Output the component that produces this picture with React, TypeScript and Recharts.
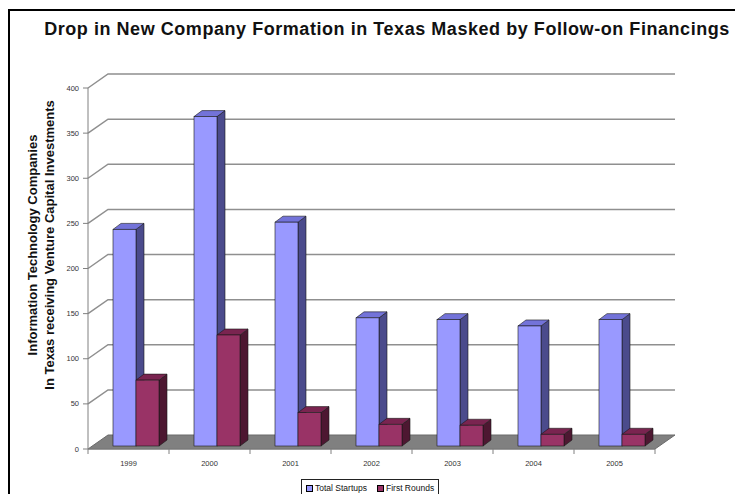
import { BarChart, Bar, XAxis, YAxis, CartesianGrid, Legend } from "recharts";

const years = ["1999", "2000", "2001", "2002", "2003", "2004", "2005"];
const totalStartups = [240, 365, 248, 142, 140, 133, 140];
const firstRounds = [73, 123, 37, 24, 23, 13, 13];
const yTicks = [0, 50, 100, 150, 200, 250, 300, 350, 400];
const seriesNames = ["Total Startups", "First Rounds"];
const titleText = "Drop in New Company Formation in Texas Masked by Follow-on Financings";
const yTitleLines = ["Information Technology Companies", "In Texas receiving Venture Capital Investments"];

const data = years.map((year, i) => ({ year, total: totalStartups[i], first: firstRounds[i] }));

const FONT = "'Liberation Sans', Arial, sans-serif";
const W = 743;
const H = 500;
const M = { top: 88, right: 88, bottom: 31, left: 28 };
const PLOT_W = W - M.left - 60 - M.right;

// back wall offset (3d look)
const WALL_DX = 20;
const WALL_DY = 14;
// bar depth
const BAR_DX = 8;
const BAR_DY = 6;

const BLUE = { front: "#9999ff", top: "#7373d9", side: "#4b4b8c" };
const RED = { front: "#993366", top: "#7a2450", side: "#4d1731" };

function Box3D(props: any) {
  const { x, y, width, height, colors } = props;
  if (height == null || height <= 0) return null;
  const bx = x + 7;
  const by = y - 3;
  const w = width;
  const h = height;
  const stroke = "#1a1a1a";
  return (
    <g>
      <polygon
        points={`${bx + w},${by} ${bx + w + BAR_DX},${by - BAR_DY} ${bx + w + BAR_DX},${by + h - BAR_DY} ${bx + w},${by + h}`}
        fill={colors.side}
        stroke={stroke}
        strokeWidth={0.6}
      />
      <polygon
        points={`${bx},${by} ${bx + BAR_DX},${by - BAR_DY} ${bx + w + BAR_DX},${by - BAR_DY} ${bx + w},${by}`}
        fill={colors.top}
        stroke={stroke}
        strokeWidth={0.6}
      />
      <rect x={bx} y={by} width={w} height={h} fill={colors.front} stroke={stroke} strokeWidth={0.6} />
    </g>
  );
}

const gridLine = (props: any) => {
  const { x1, x2, y1, index, y, height } = props;
  const bottom = y != null && height != null ? Math.abs(y1 - (y + height)) < 1 : y1 > 440;
  return (
    <g key={`grid-${index}`}>
      {bottom && (
        <polygon
          points={`${x1},${y1} ${x2},${y1} ${x2 + WALL_DX},${y1 - WALL_DY} ${x1 + WALL_DX},${y1 - WALL_DY}`}
          fill="#808080"
          stroke="#6a6a6a"
          strokeWidth={1}
        />
      )}
      {!bottom && (
        <polyline
          points={`${x1},${y1} ${x1 + WALL_DX},${y1 - WALL_DY} ${x2 + WALL_DX},${y1 - WALL_DY}`}
          fill="none"
          stroke="#8f8f8f"
          strokeWidth={1.5}
        />
      )}
    </g>
  );
};

const XTick = (props: any) => {
  const { x, y, payload, index } = props;
  const band = PLOT_W / years.length;
  return (
    <g>
      <line x1={x - band / 2} x2={x - band / 2} y1={y} y2={y + 5} stroke="#808080" />
      {index === years.length - 1 && <line x1={x + band / 2} x2={x + band / 2} y1={y} y2={y + 5} stroke="#808080" />}
      <text x={x} y={y + 17} textAnchor="middle" fontSize={7.5} fontFamily={FONT} fill="#333">
        {payload.value}
      </text>
    </g>
  );
};

const YTick = (props: any) => {
  const { x, y, payload } = props;
  return (
    <text x={x - 2} y={y} dy={2.5} textAnchor="end" fontSize={7.5} fontFamily={FONT} fill="#333">
      {payload.value}
    </text>
  );
};

const YTitle = () => (
  <g>
    {yTitleLines.map((line, i) => (
      <text
        key={line}
        x={0}
        y={0}
        transform={`translate(${37 + i * 17},245) rotate(-90)`}
        textAnchor="middle"
        fontSize={13}
        fontWeight="bold"
        fontFamily={FONT}
        fill="#111"
      >
        {line}
      </text>
    ))}
  </g>
);

const renderLegend = () => (
  <div
    style={{
      border: "1px solid #222",
      display: "flex",
      alignItems: "center",
      gap: 10,
      padding: "3px 4px",
      fontSize: 8.5,
      fontFamily: FONT,
      background: "#fff",
      color: "#111",
      lineHeight: "10px",
    }}
  >
    {seriesNames.map((name, i) => (
      <span key={name} style={{ display: "flex", alignItems: "center", gap: 2 }}>
        <span
          style={{
            display: "inline-block",
            width: 5,
            height: 5,
            background: i === 0 ? BLUE.front : RED.front,
            border: "1px solid #000",
          }}
        />
        {name}
      </span>
    ))}
  </div>
);

export default function App() {
  return (
    <div
      style={{
        position: "relative",
        width: 733,
        height: 483,
        marginTop: 1,
        borderTop: "2px solid #000",
        borderLeft: "2px solid #000",
        overflow: "hidden",
        background: "#fff",
      }}
    >
      <div style={{ position: "absolute", left: -10, top: -11, width: W, height: H }}>
        <div
          style={{
            position: "absolute",
            left: 0,
            top: 19,
            width: 774,
            textAlign: "center",
            fontFamily: FONT,
            fontSize: 18,
            letterSpacing: 0.55,
            fontWeight: "bold",
            color: "#111",
          }}
        >
          {titleText}
        </div>
        <BarChart width={W} height={H} data={data} margin={M} barGap={0} barSize={23}>
          <CartesianGrid vertical={false} horizontal={gridLine} />
          <XAxis
            dataKey="year"
            interval={0}
            height={20}
            tickSize={0}
            tickMargin={0}
            tick={<XTick />}
            axisLine={{ stroke: "#808080" }}
          />
          <YAxis
            domain={[0, 400]}
            ticks={yTicks}
            width={60}
            tickSize={5}
            tick={<YTick />}
            tickLine={{ stroke: "#808080" }}
            axisLine={{ stroke: "#808080" }}
            label={<YTitle />}
          />
          <Legend
            layout="horizontal"
            verticalAlign="middle"
            align="center"
            content={renderLegend}
            wrapperStyle={{ left: 301, top: 479, width: "auto" }}
          />
          <Bar dataKey="total" name={seriesNames[0]} isAnimationActive={false} shape={(p: any) => <Box3D {...p} colors={BLUE} />} />
          <Bar dataKey="first" name={seriesNames[1]} isAnimationActive={false} shape={(p: any) => <Box3D {...p} colors={RED} />} />
        </BarChart>
      </div>
    </div>
  );
}
